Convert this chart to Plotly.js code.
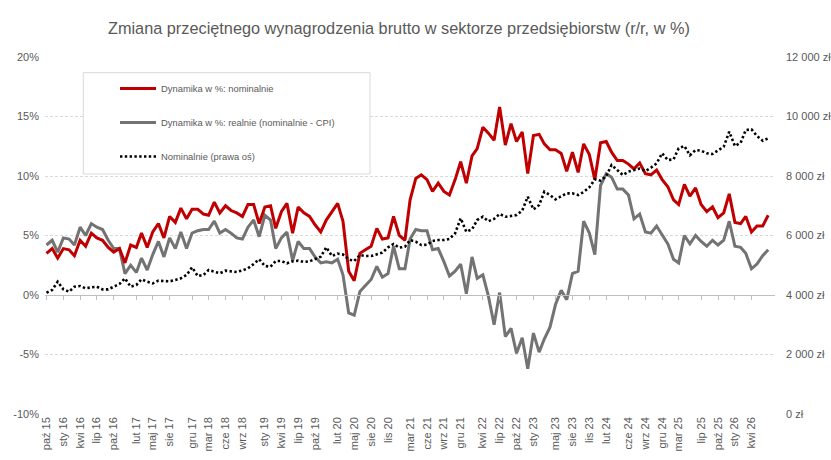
<!DOCTYPE html>
<html>
<head>
<meta charset="utf-8">
<script src="https://cdn.plot.ly/plotly-3.0.1.min.js"></script>
<style>
  html, body { margin: 0; padding: 0; background: #ffffff; }
  #chart { width: 831px; height: 460px; }
</style>
</head>
<body>
<div id="chart"></div>
<script>
// ---- data (monthly, first month: October 2015) ----
const startYear = 2015;
const startMonth = 10;

// Dynamika w %: nominalnie (r/r, %)
const nominalGrowth = [
  3.5, 3.9, 3.1, 3.9, 3.8, 3.3, 4.6, 4.1, 5.2, 4.8,
  4.6, 4.0, 3.6, 3.9, 2.7, 4.2, 4.0, 5.2, 4.0, 5.3,
  6.0, 4.8, 6.6, 6.1, 7.3, 6.4, 7.2, 7.2, 6.8, 6.7,
  7.8, 6.9, 7.5, 7.1, 6.9, 6.6, 7.6, 7.6, 6.0, 7.4,
  7.5, 5.6, 7.0, 7.7, 5.2, 7.4, 6.9, 6.6, 5.9, 5.3,
  6.3, 7.0, 7.7, 6.2, 2.0, 1.2, 3.5, 3.8, 4.1, 5.6,
  4.7, 4.8, 6.6, 5.0, 4.6, 8.0, 9.8, 10.1, 9.7, 8.7,
  9.4, 8.7, 8.4, 9.7, 11.2, 9.4, 11.7, 12.3, 14.1, 13.6,
  13.0, 15.8, 12.6, 14.4, 12.9, 13.7, 10.2, 13.4, 13.5, 12.7,
  12.2, 12.2, 11.9, 10.4, 12.0, 10.3, 12.7, 11.8, 9.7, 12.8,
  12.9, 12.0, 11.3, 11.3, 11.0, 10.6, 11.1, 10.2, 10.1, 10.5,
  9.7, 9.1, 8.0, 7.6, 9.3, 8.3, 9.0, 7.6, 7.0, 7.4,
  6.5, 6.9, 8.5, 6.1, 6.0, 6.6, 5.3, 5.8, 5.8, 6.7
];

// Dynamika w %: realnie (nominalnie - CPI)
const realGrowth = [
  4.2, 4.6, 3.6, 4.8, 4.7, 4.2, 5.7, 5.0, 6.0, 5.7,
  5.5, 4.6, 3.9, 3.9, 1.8, 2.5, 1.9, 3.1, 2.1, 3.4,
  4.5, 3.2, 4.8, 3.9, 5.3, 3.9, 5.2, 5.4, 5.5, 5.5,
  6.2, 5.2, 5.5, 5.2, 4.8, 4.7, 5.7, 6.3, 4.9, 6.7,
  6.3, 3.9, 4.8, 5.3, 2.9, 4.5, 3.9, 3.9, 3.2, 2.7,
  2.8, 2.7, 3.0, 1.7, -1.5, -1.7, 0.3, 0.8, 1.3, 2.4,
  1.5, 1.8, 4.1, 2.2, 2.2, 4.7, 5.5, 5.4, 5.4, 3.8,
  3.9, 2.8, 1.6, 2.0, 2.6, 0.1, 3.2, 1.4, 1.7, -0.1,
  -2.5, 0.2, -3.5, -2.8, -4.9, -3.6, -6.2, -3.2, -4.8, -3.7,
  -2.7, -0.8, 0.4, -0.4, 1.8, 2.0, 6.2, 5.2, 3.4, 9.2,
  10.2, 9.9, 8.9, 8.9, 8.4, 6.4, 6.8, 5.3, 5.2, 5.8,
  5.1, 4.3, 3.0, 2.7, 5.0, 4.3, 5.0, 4.5, 4.1, 4.6,
  4.2, 4.6, 6.2, 4.1, 4.0, 3.5, 2.2, 2.6, 3.3, 3.8
];

// Nominalnie (prawa oś), zł
const nominalWage = [
  4077, 4168, 4447, 4190, 4111, 4279, 4302, 4224, 4257, 4279,
  4190, 4190, 4279, 4369, 4560, 4279, 4336, 4526, 4447, 4392,
  4481, 4481, 4459, 4504, 4560, 4672, 4929, 4638, 4672, 4840,
  4795, 4728, 4817, 4784, 4773, 4829, 4896, 5042, 5199, 4974,
  4952, 5142, 5142, 5064, 5131, 5154, 5109, 5131, 5199, 5288,
  5602, 5311, 5390, 5360, 5199, 5142, 5344, 5311, 5311, 5367,
  5422, 5602, 5714, 5590, 5624, 5848, 5792, 5680, 5691, 5815,
  5848, 5848, 5882, 6073, 6577, 6128, 6208, 6520, 6632, 6480,
  6560, 6722, 6632, 6655, 6688, 6834, 7304, 6879, 7024, 7472,
  7361, 7215, 7304, 7417, 7417, 7361, 7461, 7618, 7887, 7842,
  7999, 8369, 8201, 8033, 8150, 8210, 8250, 8167, 8279, 8425,
  8762, 8537, 8560, 8930, 9008, 8695, 8873, 8850, 8762, 8739,
  8850, 8984, 9488, 9008, 9118, 9545, 9569, 9344, 9186, 9266
];

// x-axis tick labels
const tickDates = [
  '2015-10-01','2016-01-01','2016-04-01','2016-07-01','2016-10-01',
  '2017-02-01','2017-05-01','2017-08-01','2017-12-01','2018-03-01',
  '2018-06-01','2018-09-01','2019-01-01','2019-04-01','2019-07-01',
  '2019-10-01','2020-02-01','2020-05-01','2020-08-01','2020-11-01',
  '2021-03-01','2021-06-01','2021-09-01','2021-12-01','2022-04-01',
  '2022-07-01','2022-10-01','2023-01-01','2023-05-01','2023-08-01',
  '2023-11-01','2024-02-01','2024-06-01','2024-09-01','2024-12-01',
  '2025-03-01','2025-07-01','2025-10-01','2026-01-01','2026-04-01'
];
const tickLabels = [
  'paź 15','sty 16','kwi 16','lip 16','paź 16',
  'lut 17','maj 17','sie 17','gru 17','mar 18',
  'cze 18','wrz 18','sty 19','kwi 19','lip 19',
  'paź 19','lut 20','maj 20','sie 20','lis 20',
  'mar 21','cze 21','wrz 21','gru 21','kwi 22',
  'lip 22','paź 22','sty 23','maj 23','sie 23',
  'lis 23','lut 24','cze 24','wrz 24','gru 24',
  'mar 25','lip 25','paź 25','sty 26','kwi 26'
];

const leftTickVals = [-10, -5, 0, 5, 10, 15, 20];
const leftTickLabels = ['-10%', '-5%', '0%', '5%', '10%', '15%', '20%'];
const rightTickVals = [0, 2000, 4000, 6000, 8000, 10000, 12000];
const rightTickLabels = ['0 zł', '2 000 zł', '4 000 zł', '6 000 zł', '8 000 zł', '10 000 zł', '12 000 zł'];

const seriesNames = [
  'Dynamika w %: nominalnie',
  'Dynamika w %: realnie (nominalnie - CPI)',
  'Nominalnie (prawa oś)'
];

// ---- build monthly dates ----
function monthDate(i) {
  const m = startMonth - 1 + i;
  const y = startYear + Math.floor(m / 12);
  const mm = (m % 12) + 1;
  return y + '-' + String(mm).padStart(2, '0') + '-01';
}
const dates = nominalGrowth.map((_, i) => monthDate(i));

function shiftDays(iso, days) {
  const d = new Date(iso + 'T00:00:00Z');
  d.setUTCDate(d.getUTCDate() + days);
  return d.toISOString().slice(0, 10);
}
const xRange = [shiftDays(dates[0], -8), shiftDays(dates[dates.length - 1], 37)];
const yRange = [-10, 20];
const y2Range = [0, 12000];
const zeroPos = (0 - yRange[0]) / (yRange[1] - yRange[0]);

const FONT = 'Liberation Sans, Arial, sans-serif';
const TXT = '#595959';

const traces = [
  {
    name: seriesNames[1], x: dates, y: realGrowth, type: 'scatter', mode: 'lines',
    line: { color: '#737373', width: 3 }, legendgroup: 'g2', legendrank: 2,
    xaxis: 'x', yaxis: 'y', hoverinfo: 'skip'
  },
  {
    name: seriesNames[0], x: dates, y: nominalGrowth, type: 'scatter', mode: 'lines',
    line: { color: '#c00000', width: 3 }, legendgroup: 'g1', legendrank: 1,
    xaxis: 'x', yaxis: 'y', hoverinfo: 'skip'
  },
  {
    name: seriesNames[2], x: dates, y: nominalWage, type: 'scatter', mode: 'lines',
    line: { color: '#000000', width: 2.6, dash: '2.4px,2.4px' }, legendgroup: 'g3', legendrank: 3,
    xaxis: 'x2', yaxis: 'y2', hoverinfo: 'skip'
  }
];

const layout = {
  width: 831, height: 460,
  paper_bgcolor: '#ffffff', plot_bgcolor: 'rgba(0,0,0,0)',
  margin: { l: 45, r: 56, t: 57, b: 46, pad: 0 },
  font: { family: FONT, size: 11, color: TXT },
  showlegend: true,
  title: {
    text: 'Zmiana przeciętnego wynagrodzenia brutto w sektorze przedsiębiorstw (r/r, w %)',
    font: { family: FONT, size: 16.3, color: TXT },
    xref: 'container', yref: 'container',
    x: 108 / 831, xanchor: 'left',
    y: 1 - 28.5 / 460, yanchor: 'middle'
  },
  xaxis: {
    type: 'date', range: xRange,
    tickmode: 'array', tickvals: tickDates, ticktext: tickLabels,
    tickangle: -90, ticks: '', showgrid: false, zeroline: false, showline: false,
    tickfont: { family: FONT, size: 11, color: TXT }
  },
  xaxis2: {
    type: 'date', matches: 'x', overlaying: 'x', anchor: 'free', position: zeroPos, side: 'bottom',
    tickmode: 'array', tickvals: tickDates, showticklabels: false,
    ticks: 'outside', ticklen: 4, tickwidth: 1, tickcolor: '#bfbfbf',
    showline: true, linecolor: '#bfbfbf', linewidth: 1,
    showgrid: false, zeroline: false
  },
  yaxis: {
    range: yRange, tickmode: 'array', tickvals: leftTickVals, ticktext: leftTickLabels,
    showgrid: true, gridcolor: '#d9d9d9', griddash: '3px,2px', gridwidth: 1,
    zeroline: false, showline: false, ticks: '', ticklabelstandoff: 5,
    tickfont: { family: FONT, size: 11, color: TXT }
  },
  yaxis2: {
    range: y2Range, overlaying: 'y', side: 'right', anchor: 'x',
    tickmode: 'array', tickvals: rightTickVals, ticktext: rightTickLabels,
    showgrid: false, zeroline: false, showline: false, ticks: '', ticklabelstandoff: 10,
    tickfont: { family: FONT, size: 11, color: TXT }
  },
  legend: {
    x: (115 - 45) / 730, y: (414 - 74) / 357, xanchor: 'left', yanchor: 'top',
    bgcolor: 'rgba(0,0,0,0)', borderwidth: 0,
    font: { family: FONT, size: 9.4, color: TXT },
    traceorder: 'grouped', tracegroupgap: 15, itemwidth: 36
  },
  shapes: [
    {
      type: 'rect', xref: 'paper', yref: 'paper', layer: 'above',
      x0: (83.3 - 45) / 730, x1: (370 - 45) / 730,
      y0: (414 - 174) / 357, y1: (414 - 72.7) / 357,
      line: { color: '#d9d9d9', width: 1 }, fillcolor: '#ffffff'
    }
  ]
};

Plotly.newPlot('chart', traces, layout, { displayModeBar: false, staticPlot: true });
</script>
</body>
</html>
